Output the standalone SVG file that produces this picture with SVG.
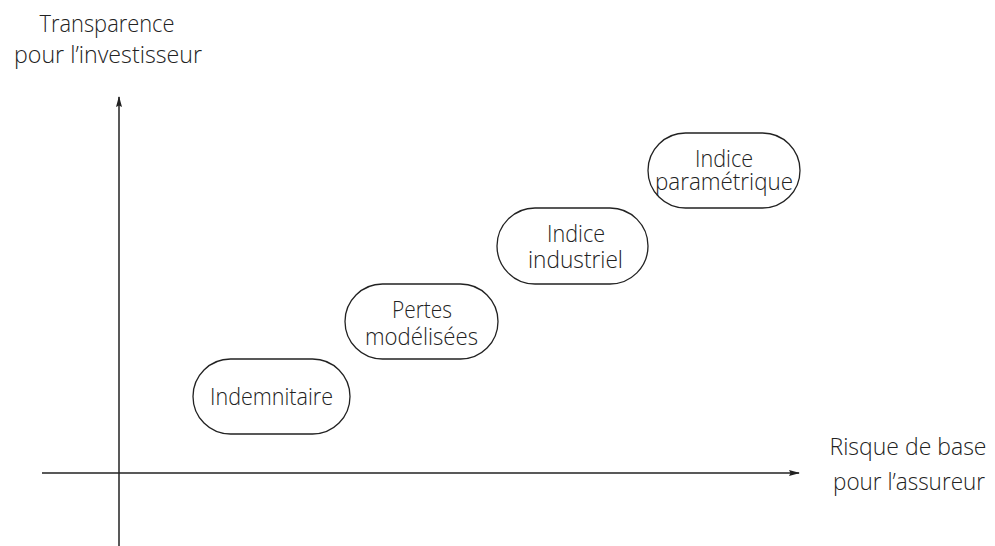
<svg xmlns="http://www.w3.org/2000/svg" width="995" height="546" viewBox="0 0 995 546">
<style>
text{font-family:"Open Sans","DejaVu Sans",sans-serif;font-size:24px;fill:#222;text-anchor:middle;font-weight:300}
.node rect{fill:#fff;stroke:#222;stroke-width:1.3}
.axis{stroke:#222;stroke-width:1.5;fill:none}
</style>
<defs>
<marker id="ah" viewBox="0 0 11 7" refX="10" refY="3.5" markerWidth="11" markerHeight="7" markerUnits="userSpaceOnUse" orient="auto">
<path d="M0,0.5 L11,3.5 L0,6.5 L1.5,3.5 Z" fill="#222"/>
</marker>
</defs>
<g id="connectors">
<line class="axis" x1="119" y1="546" x2="119" y2="97" marker-end="url(#ah)"/>
<line class="axis" x1="42" y1="473" x2="799" y2="473" marker-end="url(#ah)"/>
</g>
<g id="ylabel">
<text x="107" y="32" textLength="135" lengthAdjust="spacingAndGlyphs">Transparence</text>
<text x="108" y="63" textLength="188" lengthAdjust="spacingAndGlyphs">pour l’investisseur</text>
</g>
<g id="xlabel">
<text x="908" y="455" textLength="157" lengthAdjust="spacingAndGlyphs">Risque de base</text>
<text x="909" y="490" textLength="152" lengthAdjust="spacingAndGlyphs">pour l’assureur</text>
</g>
<g id="n1" class="node">
<rect x="193" y="359" width="157" height="75" rx="37.5"/>
<text x="271.5" y="405" textLength="123" lengthAdjust="spacingAndGlyphs">Indemnitaire</text>
</g>
<g id="n2" class="node">
<rect x="345" y="284" width="153" height="75" rx="37.5"/>
<text x="422" y="318" textLength="60" lengthAdjust="spacingAndGlyphs">Pertes</text>
<text x="421.5" y="345" textLength="113" lengthAdjust="spacingAndGlyphs">modélisées</text>
</g>
<g id="n3" class="node">
<rect x="497" y="208" width="151" height="76" rx="38"/>
<text x="576" y="242" textLength="58" lengthAdjust="spacingAndGlyphs">Indice</text>
<text x="575.5" y="268" textLength="95" lengthAdjust="spacingAndGlyphs">industriel</text>
</g>
<g id="n4" class="node">
<rect x="648" y="133" width="152" height="75" rx="37.5"/>
<text x="724" y="167" textLength="58" lengthAdjust="spacingAndGlyphs">Indice</text>
<text x="724" y="190" textLength="138" lengthAdjust="spacingAndGlyphs">paramétrique</text>
</g>
</svg>
